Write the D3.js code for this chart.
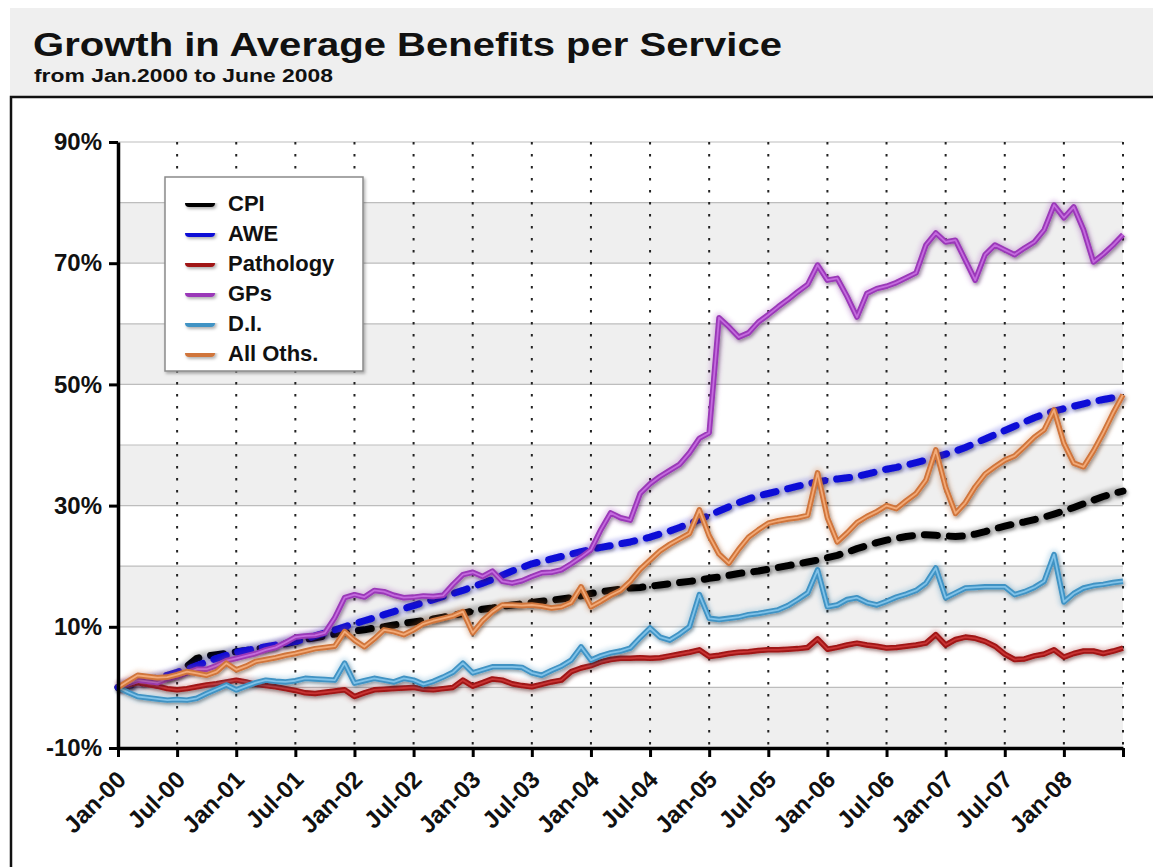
<!DOCTYPE html>
<html>
<head>
<meta charset="utf-8">
<script src="https://cdn.jsdelivr.net/npm/d3@7"></script>
<style>
body { margin: 0; background: #fff; }
text { font-family: "Liberation Sans", Arial, sans-serif; font-weight: bold; fill: #111; }
</style>
</head>
<body>
<script>
var w = 1153;
var h = 867;

// x tick labels, one every 6 months (Jan-00 .. Jul-08)
var tickLabels = ["Jan-00","Jul-00","Jan-01","Jul-01","Jan-02","Jul-02","Jan-03","Jul-03","Jan-04",
                  "Jul-04","Jan-05","Jul-05","Jan-06","Jul-06","Jan-07","Jul-07","Jan-08",""];
var yTicks = [90, 70, 50, 30, 10, -10];
var seriesNames = ["CPI", "AWE", "Pathology", "GPs", "D.I.", "All Oths."];

// monthly growth (%) since Jan-2000
var cpi = [0,0.3,0.6,1.0,1.3,1.6,2.2,3.5,4.8,5.2,5.4,5.6,
  5.9,6.1,6.3,6.6,6.9,7.2,7.6,7.9,8.2,8.5,8.8,9.0,
  9.3,9.5,9.8,10.0,10.3,10.6,10.8,11.0,11.3,11.6,11.9,12.2,
  12.6,12.9,13.1,13.4,13.6,13.8,14.0,14.2,14.4,14.6,14.8,15.1,
  15.5,15.8,16.0,16.2,16.4,16.5,16.7,16.9,17.1,17.3,17.5,17.7,
  18.0,18.2,18.5,18.8,19.0,19.2,19.5,19.8,20.1,20.4,20.7,21.0,
  21.4,21.8,22.3,22.9,23.4,23.9,24.3,24.6,24.9,25.1,25.2,25.1,
  25.0,24.9,25.0,25.3,25.7,26.2,26.6,27.0,27.3,27.7,28.1,28.6,
  29.1,29.7,30.3,30.9,31.5,32.0,32.4];

var awe = [0,0.4,0.8,1.2,1.6,2.0,2.5,3.0,3.6,4.2,4.8,5.3,
  5.8,6.1,6.4,6.7,7.0,7.3,7.6,8.0,8.5,9.0,9.5,10.0,
  10.5,11.0,11.5,12.0,12.5,13.0,13.5,14.0,14.5,15.0,15.5,16.0,
  16.6,17.2,17.8,18.5,19.2,19.8,20.4,20.8,21.2,21.6,22.0,22.4,
  22.8,23.1,23.4,23.7,24.0,24.4,24.8,25.3,25.8,26.4,27.0,27.7,
  28.4,29.1,29.8,30.5,31.1,31.6,32.0,32.4,32.8,33.2,33.6,33.9,
  34.2,34.4,34.6,34.8,35.2,35.6,36.0,36.3,36.7,37.1,37.5,38.0,
  38.5,39.0,39.6,40.3,41.0,41.7,42.4,43.1,43.8,44.5,45.1,45.6,
  46.0,46.4,46.8,47.2,47.5,47.8,48.1];

var pathology = [0,0.4,0.8,0.5,0.2,-0.2,-0.4,-0.2,0.1,0.4,0.6,0.9,
  1.2,0.9,0.5,0.3,0.1,-0.2,-0.5,-0.9,-1.0,-0.8,-0.6,-0.4,
  -1.5,-0.9,-0.4,-0.3,-0.2,-0.1,0.0,-0.3,-0.4,-0.2,0.0,1.2,
  0.2,0.8,1.4,1.2,0.6,0.3,0.1,0.5,0.9,1.2,2.6,3.2,
  3.6,4.2,4.6,4.8,4.8,4.9,4.8,4.9,5.2,5.5,5.8,6.2,
  5.1,5.3,5.6,5.8,5.9,6.1,6.2,6.2,6.3,6.4,6.6,8.0,
  6.3,6.6,7.0,7.3,7.0,6.8,6.5,6.6,6.8,7.0,7.3,8.7,
  7.0,7.9,8.3,8.1,7.6,6.8,5.5,4.6,4.7,5.2,5.5,6.2,
  5.0,5.6,6.0,6.0,5.6,6.0,6.5];

var gps = [0,0.6,1.2,1.0,0.8,1.4,1.8,2.4,3.0,3.0,3.6,4.4,
  4.8,5.2,5.6,6.2,6.6,7.4,8.3,8.5,8.6,9.0,11.5,14.8,
  15.3,14.9,16.0,15.8,15.2,14.8,14.9,15.1,15.0,15.2,17.0,18.6,
  19.0,18.3,19.2,17.5,17.2,17.6,18.3,18.9,19.0,19.4,20.4,21.5,
  22.7,26.0,28.8,28.0,27.6,32.0,33.6,34.8,35.8,36.8,38.7,41.1,
  42.0,61.0,59.5,57.8,58.5,60.3,61.5,62.8,64.0,65.3,66.5,69.7,
  67.2,67.5,64.5,61.1,65.0,65.8,66.2,66.8,67.6,68.4,73.0,75.0,
  73.5,73.8,70.5,67.2,71.4,73.0,72.2,71.4,72.5,73.5,75.5,79.6,
  77.5,79.3,75.5,70.2,71.5,73.0,74.7];

var di = [0,-0.8,-1.5,-1.7,-1.9,-2.1,-2.0,-2.1,-1.8,-1.0,-0.3,0.4,
  -0.4,0.2,0.8,1.2,1.0,0.9,1.1,1.5,1.4,1.3,1.2,4.0,
  0.7,1.1,1.5,1.2,0.9,1.5,1.2,0.5,1.0,1.7,2.5,4.0,
  2.4,2.9,3.4,3.4,3.4,3.3,2.4,2.0,2.8,3.5,4.5,6.7,
  4.5,5.2,5.7,6.0,6.5,8.2,9.8,8.3,7.8,8.8,10.0,15.3,
  11.4,11.2,11.4,11.6,12.0,12.2,12.5,12.8,13.5,14.5,15.6,19.4,
  13.3,13.6,14.5,14.8,14.0,13.6,14.2,14.9,15.4,16.0,17.2,19.7,
  14.8,15.6,16.4,16.5,16.6,16.6,16.6,15.3,15.8,16.5,17.5,21.9,
  14.1,15.5,16.4,16.8,17.0,17.3,17.5];

var allOths = [0,1.0,2.0,1.8,1.6,1.7,2.1,2.6,2.3,2.0,2.6,4.0,
  2.9,3.5,4.3,4.6,4.9,5.3,5.6,6.0,6.4,6.6,6.8,9.2,
  7.8,6.7,8.0,9.5,9.2,8.7,9.5,10.5,11.0,11.4,11.8,12.5,
  9.0,11.0,12.5,13.6,13.6,13.5,13.6,13.4,13.1,13.3,14.0,16.6,
  13.3,14.2,15.2,16.0,17.5,19.5,21.0,22.5,23.6,24.5,25.4,29.3,
  25.0,22.0,20.5,22.8,24.8,26.0,27.1,27.5,27.8,28.0,28.4,35.4,
  28.0,24.0,25.5,27.2,28.2,29.0,30.0,29.5,30.8,32.0,34.2,39.2,
  33.0,28.7,30.5,33.1,35.2,36.4,37.5,38.2,39.7,41.3,42.5,45.8,
  40.3,37.0,36.4,39.0,42.0,45.3,48.3];

var seriesValues = [cpi, awe, pathology, gps, di, allOths];
var colors = ["#050505", "#0c0cd6", "#a01414", "#9a38b8", "#3f93c4", "#d0743a"];
var innerColors = [null, null, "#c83434", "#c46ade", "#80c2e8", "#f2aa78"];
var dashed = [true, true, false, false, false, false];

var x = d3.scaleLinear().domain([0, 102]).range([118, 1123]);
var y = d3.scaleLinear().domain([-10, 90]).range([748, 142]);

//Create SVG element
var svg = d3.select("body")
            .append("svg")
            .attr("width", w)
            .attr("height", h);

//filters in user space so that flat legend lines still render
var defs = svg.append("defs");
defs.append("filter").attr("id", "blur")
    .attr("filterUnits", "userSpaceOnUse")
    .attr("x", 0).attr("y", 0).attr("width", w).attr("height", h)
    .append("feGaussianBlur").attr("stdDeviation", 2.2);
defs.append("filter").attr("id", "shadow")
    .attr("filterUnits", "userSpaceOnUse")
    .attr("x", 0).attr("y", 0).attr("width", w).attr("height", h)
    .append("feDropShadow")
    .attr("dx", 1.5).attr("dy", 2).attr("stdDeviation", 1.6)
    .attr("flood-color", "#000").attr("flood-opacity", 0.3);

svg.append("rect").attr("width", w).attr("height", h).attr("fill", "#fff");

//header
svg.append("rect")
   .attr("x", 10).attr("y", 8)
   .attr("width", w - 10).attr("height", 89)
   .attr("fill", "#efefef");

svg.append("text")
   .attr("x", 33).attr("y", 56)
   .attr("font-size", 33)
   .attr("textLength", 749)
   .attr("lengthAdjust", "spacingAndGlyphs")
   .text("Growth in Average Benefits per Service");

svg.append("text")
   .attr("x", 34).attr("y", 82)
   .attr("font-size", 18)
   .attr("textLength", 299)
   .attr("lengthAdjust", "spacingAndGlyphs")
   .text("from Jan.2000 to June 2008");

svg.append("path")
   .attr("d", "M11," + h + "V97H" + w)
   .attr("fill", "none")
   .attr("stroke", "#111")
   .attr("stroke-width", 2.5);

//background bands and grid
var bands = d3.range(-10, 90, 10);
svg.selectAll("rect.band")
   .data(bands)
   .enter()
   .append("rect")
   .attr("class", "band")
   .attr("x", x(0))
   .attr("y", function(d) { return y(d + 10); })
   .attr("width", x(102) - x(0))
   .attr("height", function(d) { return y(d) - y(d + 10); })
   .attr("fill", function(d) { return ((d + 10) / 10) % 2 == 0 ? "#efefef" : "#fff"; });

svg.selectAll("line.hgrid")
   .data(d3.range(-10, 100, 10))
   .enter()
   .append("line")
   .attr("class", "hgrid")
   .attr("x1", x(0)).attr("x2", x(102))
   .attr("y1", function(d) { return y(d); })
   .attr("y2", function(d) { return y(d); })
   .style("stroke", "#bdbdbd")
   .style("stroke-width", 1.2);

var xTicks = d3.range(0, 103, 6);
svg.selectAll("line.vgrid")
   .data(xTicks.slice(1))
   .enter()
   .append("line")
   .attr("class", "vgrid")
   .attr("x1", function(d) { return x(d); })
   .attr("x2", function(d) { return x(d); })
   .attr("y1", y(90)).attr("y2", y(-10))
   .style("stroke", "#222")
   .style("stroke-width", 2)
   .style("stroke-dasharray", "2.5,9.5");

//series
var line = d3.line()
  .x(function(d, i) { return x(i); })
  .y(function(d) { return y(d); });

seriesValues.forEach(function(values, k) {
  var g = svg.append("g");
  g.append("path")
   .attr("d", line(values))
   .attr("fill", "none")
   .attr("stroke", colors[k])
   .attr("stroke-width", 11)
   .attr("stroke-linejoin", "round")
   .attr("opacity", 0.22)
   .attr("filter", "url(#blur)");
  var main = g.append("path")
   .attr("d", line(values))
   .attr("fill", "none")
   .attr("stroke", colors[k])
   .attr("stroke-linejoin", "round")
   .attr("filter", "url(#shadow)");
  if (dashed[k]) {
    main.attr("stroke-width", 7)
        .attr("stroke-linecap", "round")
        .attr("stroke-dasharray", "13,12");
  } else {
    main.attr("stroke-width", 5.5);
    g.append("path")
     .attr("d", line(values))
     .attr("fill", "none")
     .attr("stroke", innerColors[k])
     .attr("stroke-width", 1.8)
     .attr("stroke-linejoin", "round");
  }
});

//axes
var yAxis = d3.axisLeft(y)
  .tickValues(yTicks)
  .tickFormat(function(d) { return d + "%"; })
  .tickSize(9)
  .tickSizeOuter(0)
  .tickPadding(7);

var gy = svg.append("g")
  .attr("transform", "translate(" + x(0) + ",0)")
  .call(yAxis);
gy.select(".domain").attr("stroke", "#000").attr("stroke-width", 3.5);
gy.selectAll(".tick line").attr("stroke", "#000").attr("stroke-width", 3);
gy.selectAll(".tick text")
  .attr("font-size", 24)
  .attr("font-family", "Liberation Sans, Arial, sans-serif")
  .attr("font-weight", "bold")
  .attr("fill", "#111");

var xAxis = d3.axisBottom(x)
  .tickValues(xTicks)
  .tickFormat(function(d, i) { return tickLabels[i]; })
  .tickSize(9)
  .tickSizeOuter(0);

var gx = svg.append("g")
  .attr("transform", "translate(0," + y(-10) + ")")
  .call(xAxis);
gx.select(".domain").attr("stroke", "#000").attr("stroke-width", 3.5);
gx.selectAll(".tick line").attr("stroke", "#000").attr("stroke-width", 3);
gx.selectAll(".tick text")
  .attr("x", 0).attr("y", 0).attr("dy", 0)
  .attr("text-anchor", "end")
  .attr("transform", "translate(9,33) rotate(-45)")
  .attr("font-size", 24)
  .attr("font-family", "Liberation Sans, Arial, sans-serif")
  .attr("font-weight", "bold")
  .attr("fill", "#111");

//legend
var legend = svg.append("g");
legend.append("rect")
  .attr("x", 165).attr("y", 177)
  .attr("width", 198).attr("height", 194)
  .attr("fill", "#fff")
  .attr("stroke", "#8a8a8a")
  .attr("stroke-width", 1.5)
  .attr("filter", "url(#shadow)");

var rows = legend.selectAll("g.row")
  .data(seriesNames)
  .enter()
  .append("g")
  .attr("class", "row")
  .attr("transform", function(d, i) { return "translate(0," + (203 + 30 * i) + ")"; });

rows.append("line")
  .attr("x1", 189).attr("x2", 211)
  .attr("y1", 0).attr("y2", 0)
  .attr("stroke", function(d, i) { return colors[i]; })
  .attr("stroke-width", 8)
  .attr("stroke-linecap", "round")
  .attr("filter", "url(#shadow)");

rows.append("text")
  .attr("x", 228)
  .attr("dy", "0.36em")
  .attr("font-size", 22)
  .text(function(d) { return d; });
</script>
</body>
</html>
